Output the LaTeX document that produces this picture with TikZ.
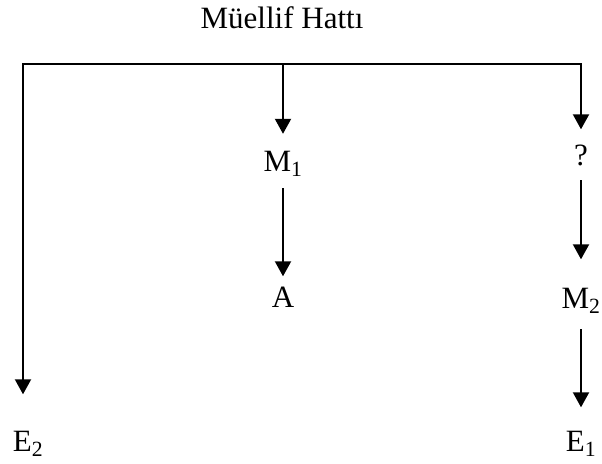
\documentclass[tikz,border=0pt]{standalone}
\usepackage{fontspec}
\setmainfont{Liberation Serif}
\usetikzlibrary{arrows.meta}
\begin{document}
\begin{tikzpicture}[x=1pt,y=-1pt,
  lbl/.style={inner sep=0pt, anchor=base, text height=20.5pt, text depth=0pt,
    font=\fontsize{31}{37}\selectfont},
  link/.style={line width=2pt},
  arr/.style={link, -{Triangle[width=16pt,length=15pt]}}]
\useasboundingbox (0,0) rectangle (602,463);

% heading
\node[lbl] (title) at (282,28) {Müellif Hattı};

% labels
\node[lbl] (m1) at (283,171) {M\textsubscript{1}};
\node[lbl] (a)  at (283,307) {A};
\node[lbl] (q)  at (581,165) {?};
\node[lbl] (m2) at (581,308) {M\textsubscript{2}};
\node[lbl] (e1) at (581,451) {E\textsubscript{1}};
\node[lbl] (e2) at (28,451)  {E\textsubscript{2}};

% horizontal bar with its three drops
\coordinate (tl) at (23,64);
\coordinate (tr) at (581,64);
\coordinate (tm) at (m1 |- tl);
\draw[link, line cap=rect] (tl) -- (tr);
\draw[arr, shorten >=36pt] (tl) -- (tl |- e2.north);
\draw[arr, shorten >=16.5pt] (tm) -- (m1.north);
\draw[arr, shorten >=15pt] (tr) -- (q.north);

% vertical chains
\draw[arr, shorten <=17pt, shorten >=10pt] (m1) -- (a);
\draw[arr, shorten <=15pt, shorten >=28pt] (q) -- (m2);
\draw[arr, shorten <=21pt, shorten >=23pt] (m2) -- (e1);
\end{tikzpicture}
\end{document}
